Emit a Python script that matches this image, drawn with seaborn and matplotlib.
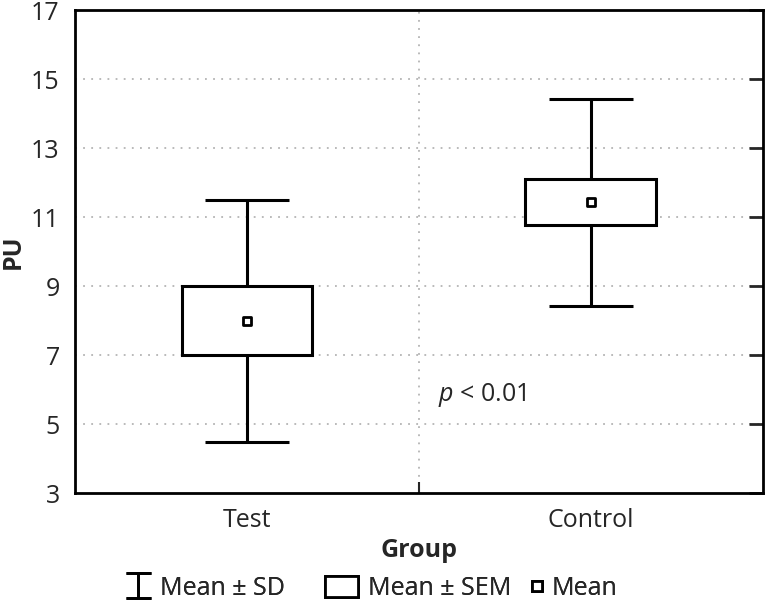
import numpy as np
import pandas as pd
import matplotlib
matplotlib.use("Agg")
import matplotlib.pyplot as plt
import seaborn as sns
from matplotlib.patches import Patch
from matplotlib.lines import Line2D

# Valores
grupos = ['Test', 'Control']
media = [8.0, 11.43]
sem_inf = [7.0, 10.78]
sem_sup = [9.0, 12.1]
sd_inf = [4.5, 8.43]
sd_sup = [11.5, 14.43]
y_ticks = [3, 5, 7, 9, 11, 13, 15, 17]

df = pd.DataFrame({'Group': grupos, 'Mean': media,
                   'SEM_lo': sem_inf, 'SEM_hi': sem_sup,
                   'SD_lo': sd_inf, 'SD_hi': sd_sup})

sns.set_style("white")
plt.rcParams['font.family'] = ['Open Sans', 'DejaVu Sans']
plt.rcParams['mathtext.fontset'] = 'custom'
plt.rcParams['mathtext.it'] = 'Open Sans:italic'
plt.rcParams['mathtext.rm'] = 'Open Sans'

fs = 18

fig = plt.figure(figsize=(7.65, 6.03), dpi=100)
ax = fig.add_axes([0.098, 0.182, 0.899, 0.801])

x = np.arange(len(df))

# grade pontilhada
for v in y_ticks[1:-1]:
    ax.axhline(v, color='#b4b4b4', lw=1.3, ls=(0, (1, 3.5)), zorder=0)
ax.axvline(0.5, color='#b4b4b4', lw=1.3, ls=(0, (1, 3.5)), zorder=0)

# Mean ± SD (bigodes)
ax.errorbar(x, df['Mean'], yerr=[df['Mean'] - df['SD_lo'], df['SD_hi'] - df['Mean']],
            fmt='none', ecolor='black', elinewidth=2.2, capsize=30, capthick=2.2, zorder=2)

# Mean ± SEM (caixas)
ax.bar(x, df['SEM_hi'] - df['SEM_lo'], bottom=df['SEM_lo'], width=0.38,
       facecolor='white', edgecolor='black', linewidth=2.2, zorder=3)

# Média
sns.scatterplot(x=x, y=df['Mean'], marker='s', s=38, color='white',
                edgecolor='black', linewidth=2, zorder=4, ax=ax, legend=False)

ax.set_xlim(-0.5, 1.5)
ax.set_ylim(3, 17)
ax.set_yticks(y_ticks)
ax.set_xticks(x)
ax.set_xticklabels(df['Group'])
ax.set_xticks([0.5], minor=True)
ax.tick_params(axis='y', which='major', left=False, right=True, direction='in',
               length=10, width=2, labelsize=fs, pad=11)
ax.tick_params(axis='x', which='major', bottom=False, labelsize=fs, pad=7)
ax.tick_params(axis='x', which='minor', bottom=True, direction='in', length=8, width=1.5)

for s in ax.spines.values():
    s.set_linewidth(2)
    s.set_color('black')

ax.set_xlabel('Group', fontsize=fs, fontweight='bold', labelpad=4)
ax.set_ylabel('PU', fontsize=fs, fontweight='bold')
ax.yaxis.set_label_coords(-0.071, 0.5)

ax.text(0.555, 5.85, r'$p$ < 0.01', fontsize=fs, va='center', ha='left')

# legenda: três entradas posicionadas separadamente
sd_handle = ax.errorbar([np.nan], [np.nan], yerr=[1], fmt='none', ecolor='black',
                        elinewidth=2, capsize=9, capthick=2)
box_handle = Patch(facecolor='white', edgecolor='black', linewidth=2)
mean_handle = Line2D([], [], marker='s', ls='none', markersize=6.5,
                     markerfacecolor='white', markeredgecolor='black', markeredgewidth=2)

itens = [(sd_handle, 'Mean ± SD', 125, 1.0),
         (box_handle, 'Mean ± SEM', 325, 1.32),
         (mean_handle, 'Mean', 532, 0.4)]
for h, rotulo, xpix, hl in itens:
    leg = fig.legend([h], [rotulo], loc='center left', bbox_to_anchor=(xpix / 765, 0.024),
                     frameon=False, fontsize=fs, handlelength=hl, handleheight=0.95,
                     handletextpad=0.4, borderpad=0, borderaxespad=0)
    fig.add_artist(leg)

fig.savefig('out.png', dpi=100)
